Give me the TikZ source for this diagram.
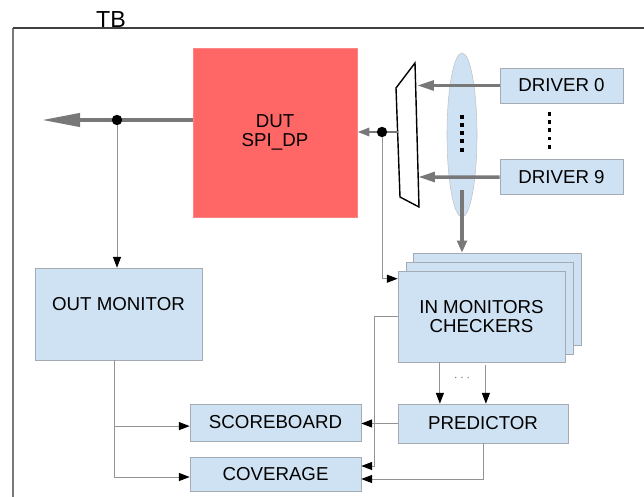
\documentclass[tikz,border=0pt]{standalone}
\usepackage{fontspec}
\setmainfont{Liberation Sans}
\usetikzlibrary{arrows.meta,shapes.geometric,positioning}

\definecolor{boxblue}{HTML}{CFE2F3}
\definecolor{boxline}{HTML}{A4ABB2}
\definecolor{dutred}{HTML}{FF6666}
\definecolor{busgray}{HTML}{787878}
\definecolor{wiregray}{HTML}{939393}

\begin{document}
\begin{tikzpicture}[x=0.025cm, y=-0.025cm, font=\fontsize{13.3}{13.8}\selectfont,
    blk/.style = {draw=boxline, fill=boxblue, inner sep=0pt, align=center},
    bus/.style = {draw=busgray, line width=2.5pt},
    wire/.style = {draw=wiregray, line width=0.7pt, -{Triangle[black, length=0.27cm, width=0.2cm]}},
    dot/.style = {circle, fill=black, inner sep=0pt, minimum size=0.26cm},
    dots/.style = {line width=2.2pt, dash pattern=on 2.8pt off 3pt}]
    \useasboundingbox (0,0) rectangle (644,497);

    % testbench frame
    \coordinate (tbtl) at (13,28);
    \draw[draw=busgray, line width=1.4pt] (13,497) -- (tbtl);
    \draw[draw=black!75, line width=0.85pt] (tbtl) -- (644,28);
    \node[anchor=base, inner sep=0pt, font=\fontsize{16.5}{18}\selectfont] (tb) at (111,27.5) {TB};

    % blocks
    \node[blk, fill=dutred, draw=dutred!80!white, minimum width=4.1cm, minimum height=4.225cm] (dut) at (275,132.5) {DUT\\SPI\_DP};
    \node[blk, minimum width=4.175cm, minimum height=2.3cm] (outmon) at (118.5,314) {OUT MONITOR\\~};
    \node[blk, minimum width=3.075cm, minimum height=0.875cm] (drv0) at (561.5,85.5) {DRIVER 0};
    \node[blk, minimum width=3.075cm, minimum height=0.875cm] (drv9) [below=1.4cm of drv0] {DRIVER 9};
    \node[ellipse, draw=boxline!70!white, fill=boxblue, inner sep=0pt, minimum width=0.75cm, minimum height=4.1cm] (bundle) at (462,135) {};

    % stacked monitors, back to front
    \node[blk, minimum width=4.2cm, minimum height=2.3cm] (inback) at (497.5,299) {};
    \node[blk, minimum width=4.175cm, minimum height=2.3cm] (inmid) at (490,308) {};
    \node[blk, minimum width=4.175cm, minimum height=2.275cm] (infront) at (481.5,316.5) {IN MONITORS\\CHECKERS};

    \node[blk, minimum width=4.25cm, minimum height=0.975cm] (pred) at (483,423.5) {PREDICTOR};
    \node[blk, minimum width=4.275cm, minimum height=0.925cm] (score) at (275.5,422.5) {SCOREBOARD};
    \node[blk, minimum width=4.275cm, minimum height=0.85cm] (cover) at (275.5,474) {COVERAGE};

    % mux in front of the DUT input
    \draw[line width=1pt] (396,88) -- (415,63) -- (419,207) -- (400,197) -- cycle;
    \coordinate (mux0) at (417,85.5);
    \coordinate (mux9) at (418,177);
    \coordinate (muxout) at (398,132);

    % bus lines
    \coordinate (outtap) at (117,120);
    \coordinate (intap) at (382,132);
    \coordinate (busend) at (42,120);
    \draw[bus, -{Triangle[length=0.95cm, width=0.33cm]}] (dut.west |- outtap) -- (busend);
    \draw[bus, line width=2pt, -{Triangle[length=0.3cm, width=0.2cm]}] (muxout) -- (dut.east |- muxout);
    \draw[bus, -{Triangle[length=0.42cm, width=0.24cm]}] (drv0.west) -- (mux0);
    \draw[bus, -{Triangle[length=0.42cm, width=0.24cm]}] (drv9.west) -- (mux9);
    \draw[bus, -{Triangle[length=0.3cm, width=0.24cm]}] ([yshift=0.675cm]bundle.south) -- (bundle |- inback.north);
    \draw[dots] ([yshift=0.5cm]bundle.center) -- ([yshift=-0.5cm]bundle.center);
    \draw[dots, shorten <=0.22cm, shorten >=0.18cm] ([xshift=-0.31cm]drv0.south) -- ([xshift=-0.31cm]drv9.north);
    \node[dot] (outdot) at (outtap) {};
    \node[dot] (indot) at (intap) {};

    % monitor and checker wires
    \draw[wire] (outdot) -- (outdot |- outmon.north);
    \draw[wire] (indot) |- ([yshift=-0.2cm]infront.north west);
    \draw[wire] ([xshift=-1.04cm]infront.south) -- ([xshift=-1.04cm]infront.south |- pred.north);
    \draw[wire] ([xshift=0.11cm, yshift=-0.08cm]infront.south) -- ([xshift=0.11cm]infront.south |- pred.north);
    \node[text=gray, font=\fontsize{10}{11}\selectfont] (etc) at (462,378) {$\cdots$};
    \draw[wire] (pred.west) -- (pred.west -| score.east);
    \draw[wire] (pred.south) |- ([yshift=-0.125cm]cover.east);
    \draw[wire] (infront.west) -- ++(-23,0) |- ([yshift=0.2cm]cover.east);
    \coordinate (sbin) at ([yshift=-0.09cm]score.west);
    \draw[wire] ([xshift=-0.11cm]outmon.south) |- ([yshift=-0.075cm]cover.west);
    \draw[wire] ([xshift=-0.11cm]outmon.south |- sbin) -- (sbin);
  \end{tikzpicture}
\end{document}
